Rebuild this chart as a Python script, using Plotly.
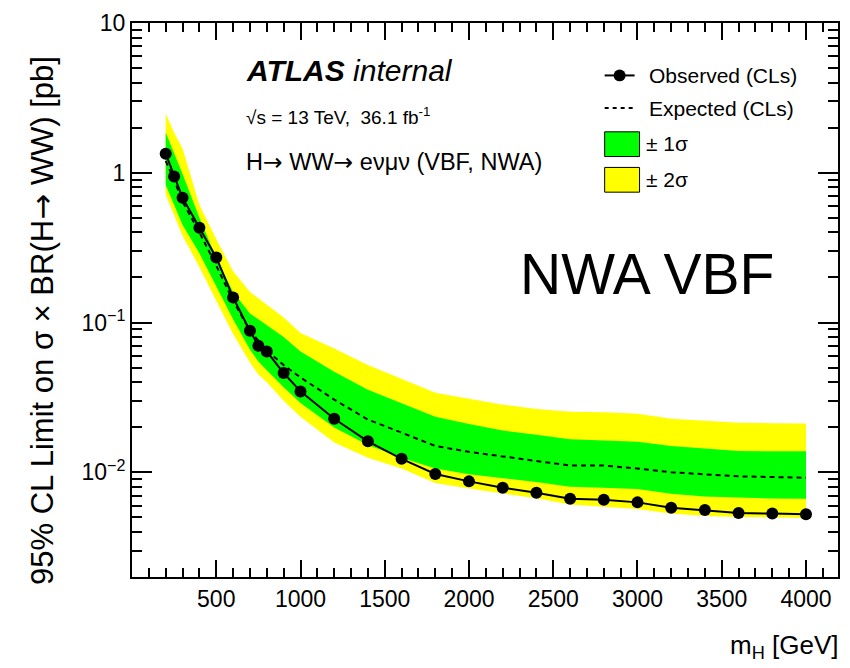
import numpy as np
import plotly.graph_objects as go

# ---------------- data ----------------
mass = [200, 250, 300, 400, 500, 600, 700, 750, 800, 900, 1000, 1200, 1400, 1600,
        1800, 2000, 2200, 2400, 2600, 2800, 3000, 3200, 3400, 3600, 3800, 4000]
observed = [1.34, 0.945, 0.68, 0.43, 0.272, 0.147, 0.088, 0.070, 0.064, 0.046, 0.0347,
            0.0228, 0.0161, 0.0123, 0.00975, 0.0087, 0.0079, 0.0073, 0.00665, 0.00655,
            0.0063, 0.0058, 0.0056, 0.00535, 0.0053, 0.00525]
expected = [1.20, 0.90, 0.64, 0.40, 0.24, 0.14, 0.088, 0.075, 0.065, 0.052, 0.043,
            0.0306, 0.0225, 0.0184, 0.0150, 0.0137, 0.0127, 0.0119, 0.0111, 0.0111,
            0.0106, 0.0100, 0.0097, 0.0094, 0.0093, 0.0092]
sig1_lo = [0.83, 0.62, 0.45, 0.29, 0.175, 0.105, 0.066, 0.055, 0.048, 0.037, 0.029,
           0.0199, 0.0152, 0.0125, 0.0106, 0.0097, 0.0091, 0.0086, 0.0080, 0.0079,
           0.00775, 0.0072, 0.0069, 0.0068, 0.00668, 0.00665]
sig1_hi = [1.86, 1.35, 0.98, 0.50, 0.27, 0.16, 0.115, 0.105, 0.096, 0.08, 0.064,
           0.047, 0.0356, 0.029, 0.0235, 0.021, 0.019, 0.0178, 0.0166, 0.0163,
           0.016, 0.015, 0.0144, 0.0139, 0.0138, 0.0138]
sig2_lo = [0.715, 0.52, 0.38, 0.235, 0.14, 0.084, 0.054, 0.045, 0.040, 0.030, 0.0235,
           0.0158, 0.0125, 0.0106, 0.0085, 0.0078, 0.0072, 0.0067, 0.0061, 0.0059,
           0.0057, 0.0053, 0.0051, 0.00503, 0.00498, 0.00496]
sig2_hi = [2.48, 1.85, 1.45, 0.61, 0.36, 0.22, 0.16, 0.145, 0.13, 0.108, 0.085,
           0.067, 0.052, 0.042, 0.034, 0.031, 0.0283, 0.0265, 0.0254, 0.0252,
           0.0246, 0.0228, 0.022, 0.0214, 0.0213, 0.0212]

x_major = [500, 1000, 1500, 2000, 2500, 3000, 3500, 4000]
y_major = [0.01, 0.1, 1, 10]
y_major_text = ["10<sup>\u22122</sup>", "10<sup>\u22121</sup>", "1", "10"]

# ---------------- geometry helpers ----------------
W, H = 850, 668
L, R, T, B = 132, 840, 17, 577
def px(x):
    return (x - L) / (R - L)
def py(y):
    return (B - y) / (B - T)

FONT = "Liberation Sans, Arial, Helvetica, sans-serif"
GREEN = "#00ff00"
YELLOW = "#ffff00"

fig = go.Figure()

# yellow band
fig.add_trace(go.Scatter(x=mass + mass[::-1], y=sig2_hi + sig2_lo[::-1],
                         fill="toself", fillcolor=YELLOW, line=dict(width=0),
                         mode="lines", hoverinfo="skip", showlegend=False))
# green band
fig.add_trace(go.Scatter(x=mass + mass[::-1], y=sig1_hi + sig1_lo[::-1],
                         fill="toself", fillcolor=GREEN, line=dict(width=0),
                         mode="lines", hoverinfo="skip", showlegend=False))
# expected
fig.add_trace(go.Scatter(x=mass, y=expected, mode="lines",
                         line=dict(color="black", width=2, dash="5px,4px"),
                         showlegend=False))
# observed
fig.add_trace(go.Scatter(x=mass, y=observed, mode="lines+markers",
                         line=dict(color="black", width=2),
                         marker=dict(color="black", size=12),
                         showlegend=False))

y_minor = [k * 10.0 ** n for n in range(-3, 1) for k in range(2, 10)
           if 0.002 <= k * 10.0 ** n <= 10]
x_minor = [v for v in range(100, 4200, 100) if v % 500 != 0]

fig.update_xaxes(range=[0, 4190], tickvals=x_major, ticks="inside", ticklen=17,
                 tickwidth=1.5, tickcolor="black",
                 minor=dict(tickvals=x_minor, ticks="inside", ticklen=9,
                            tickwidth=1.5, tickcolor="black", showgrid=False),
                 showline=True, linewidth=2, linecolor="black", mirror="allticks",
                 showgrid=False, zeroline=False,
                 tickfont=dict(family=FONT, size=23, color="black"))
fig.update_yaxes(type="log", range=[np.log10(0.002), 1], tickvals=y_major,
                 ticktext=y_major_text, ticks="inside", ticklen=20, tickwidth=1.5,
                 tickcolor="black",
                 minor=dict(tickvals=y_minor, ticks="inside", ticklen=10,
                            tickwidth=1.5, tickcolor="black", showgrid=False),
                 showline=True, linewidth=2, linecolor="black", mirror="allticks",
                 showgrid=False, zeroline=False,
                 tickfont=dict(family=FONT, size=23, color="black"))

ann = []
def text(x, y, s, size, xanchor="left", angle=0):
    ann.append(dict(x=px(x), y=py(y), xref="paper", yref="paper", text=s,
                    showarrow=False, xanchor=xanchor, yanchor="middle",
                    textangle=angle,
                    font=dict(family=FONT, size=size, color="black")))

ARROW = "<span style='font-family:DejaVu Sans'>\u2192</span>"
text(244, 65, "<b><i>ATLAS</i></b> <i>internal</i>", 30)
text(244, 111, "\u221as = 13 TeV,  36.1 fb<sup>-1</sup>", 19)
text(244, 158, "H" + ARROW + " WW" + ARROW + " e\u03bd\u03bc\u03bd (VBF, NWA)", 23.5)
text(519, 271, "NWA VBF", 57)
text(648, 70, "Observed (CLs)", 21)
text(648, 103, "Expected (CLs)", 21)
text(645, 139, "\u00b1 1\u03c3", 21)
text(645, 175, "\u00b1 2\u03c3", 21)
text(843, 647, "m<sub>H</sub> [GeV]", 26, xanchor="right")
text(42, 318, "95% CL Limit on \u03c3 \u00d7 BR(H" + ARROW + " WW) [pb]", 31,
     xanchor="center", angle=-90)

shapes = []
shapes.append(dict(type="line", xref="paper", yref="paper", x0=px(606), x1=px(636),
                   y0=py(70), y1=py(70), line=dict(color="black", width=2)))
shapes.append(dict(type="circle", xref="paper", yref="paper", x0=px(615), x1=px(627),
                   y0=py(76), y1=py(64), fillcolor="black", line=dict(color="black", width=0)))
shapes.append(dict(type="line", xref="paper", yref="paper", x0=px(606), x1=px(636),
                   y0=py(103), y1=py(103), line=dict(color="black", width=2, dash="4px,4px")))
shapes.append(dict(type="rect", xref="paper", yref="paper", x0=px(606), x1=px(641),
                   y0=py(152), y1=py(127), fillcolor=GREEN, line=dict(color="black", width=1)))
shapes.append(dict(type="rect", xref="paper", yref="paper", x0=px(606), x1=px(641),
                   y0=py(188), y1=py(163), fillcolor=YELLOW, line=dict(color="black", width=1)))

fig.update_layout(width=W, height=H, margin=dict(l=L, r=W - R, t=T, b=H - B),
                  paper_bgcolor="white", plot_bgcolor="white",
                  annotations=ann, shapes=shapes, showlegend=False)

fig.write_html("out.html", config={"displayModeBar": False},
               post_script="document.body.style.margin='0px';"
                           "document.body.style.overflow='hidden';")
